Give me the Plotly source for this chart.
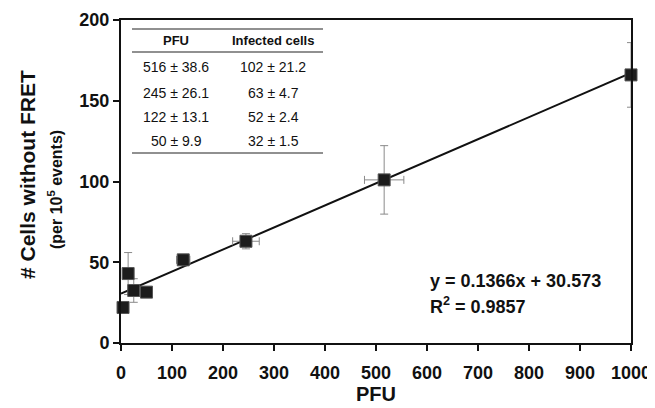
import plotly.graph_objects as go

# ---- data ----
pfu = [4, 14, 25, 50, 122, 245, 516, 1000]
cells = [22, 43, 32.5, 31.5, 51.5, 63, 101, 166]
cells_err = [0, 13, 7.3, 1.5, 2.4, 4.7, 21.2, 20]
pfu_err = [0, 0, 0, 9.9, 13.1, 26.1, 38.6, 0]

slope = 0.1366
intercept = 30.573
r2 = 0.9857

table_header = ["PFU", "Infected cells"]
table_pfu = ["516 ± 38.6", "245 ± 26.1", "122 ± 13.1", "50 ± 9.9"]
table_cells = ["102 ± 21.2", "63 ± 4.7", "52 ± 2.4", "32 ± 1.5"]

x_ticks = [0, 100, 200, 300, 400, 500, 600, 700, 800, 900, 1000]
y_ticks = [0, 50, 100, 150, 200]

FONT = "Arial, Liberation Sans, Helvetica, sans-serif"

# page is 655x408; the browser body has an 8px default margin
OFF = 8
W, H = 655 - OFF, 408 - OFF
# plot area in page pixels: left 121, right 631, top 20, bottom 343
L, R, T, B = 121 - OFF, 655 - 631, 20 - OFF, 408 - 343
PW, PH = W - L - R, H - T - B


def px(xp):
    return (xp - 121) / PW


def py(yp):
    return (343 - yp) / PH


fig = go.Figure()

fit_x = [0, 1000]
fit_y = [slope * v + intercept for v in fit_x]
fig.add_trace(go.Scatter(x=fit_x, y=fit_y, mode="lines",
                         line=dict(color="#111111", width=2),
                         hoverinfo="skip", showlegend=False))

fig.add_trace(go.Scatter(
    x=pfu, y=cells, mode="markers",
    marker=dict(symbol="square", size=12, color="#1c1c1c",
                line=dict(color="#555555", width=1)),
    error_y=dict(type="data", array=cells_err, visible=True,
                 color="#8a8a8a", thickness=1, width=4),
    error_x=dict(type="data", array=pfu_err, visible=True,
                 color="#8a8a8a", thickness=1, width=4),
    showlegend=False, cliponaxis=False))

# table lines
for yy in [29, 52, 153]:
    fig.add_shape(type="line", xref="paper", yref="paper",
                  x0=px(132), x1=px(323), y0=py(yy), y1=py(yy),
                  line=dict(color="#222222", width=1.2))


def note(xp, yp, text, size, anchor="center", angle=0):
    fig.add_annotation(x=px(xp), y=py(yp), xref="paper", yref="paper",
                       xanchor=anchor, yanchor="middle", text=text,
                       textangle=angle, showarrow=False,
                       font=dict(family=FONT, size=size, color="#111111"))


col_x = [176, 273]
for cx, txt in zip(col_x, table_header):
    note(cx, 41, f"<b>{txt}</b>", 13)
row_y = [67, 93, 117, 141]
for ry, a, b in zip(row_y, table_pfu, table_cells):
    note(col_x[0], ry, a, 14)
    note(col_x[1], ry, b, 14)

# equation
note(428, 281, f"<b>y = {slope}x + {intercept}</b>", 18, anchor="left")
note(428, 305, f"<b>R<sup>2</sup> = {r2}</b>", 18, anchor="left")

# y-axis titles
note(27, 175, "<b># Cells without FRET</b>", 21, angle=-90)
note(55, 190, "<b>(per 10<sup>5</sup> events)</b>", 16, angle=-90)

axis_common = dict(showline=True, linecolor="#111111", linewidth=2, mirror=True,
                   ticks="outside", ticklen=6, tickwidth=1.5, tickcolor="#111111",
                   showgrid=False, zeroline=False, automargin=False,
                   tickfont=dict(family=FONT, size=18, color="#111111"))

fig.update_xaxes(range=[0, 1000], tickvals=x_ticks,
                 ticktext=[f"<b>{v}</b>" for v in x_ticks],
                 ticklabelstandoff=6,
                 title=dict(text="<b>PFU</b>", standoff=2,
                            font=dict(family=FONT, size=20, color="#111111")),
                 **axis_common)
fig.update_yaxes(range=[0, 200], tickvals=y_ticks,
                 ticktext=[f"<b>{v}</b>" for v in y_ticks],
                 **axis_common)

fig.update_layout(width=W, height=H,
                  margin=dict(l=L, r=R, t=T, b=B, pad=0),
                  paper_bgcolor="white", plot_bgcolor="white",
                  font=dict(family=FONT))

fig.write_html("out.html")
